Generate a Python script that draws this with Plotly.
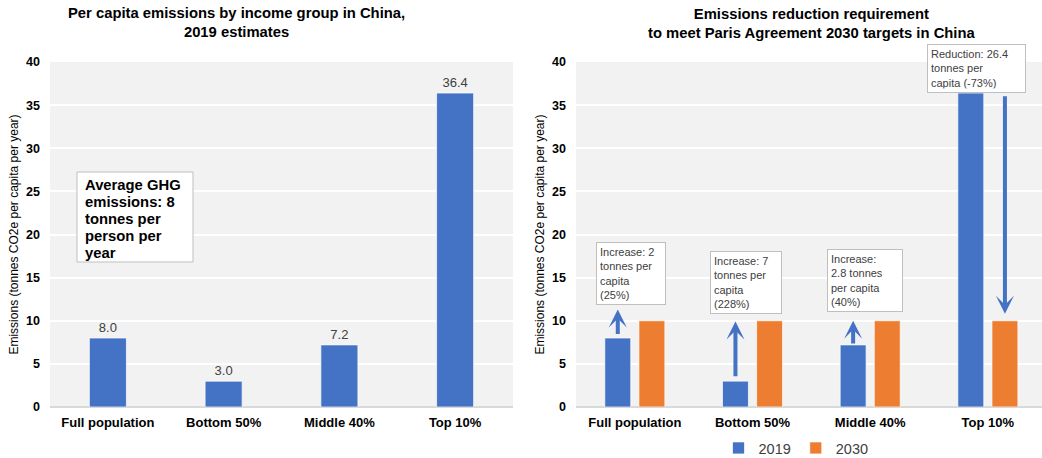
import plotly.graph_objects as go

# Income groups and per-capita emissions (tonnes CO2e per capita per year)
groups = ["Full population", "Bottom 50%", "Middle 40%", "Top 10%"]
emissions_2019 = [8.0, 3.0, 7.2, 36.4]
emissions_2030 = [10, 10, 10, 10]

# Change arrows on the right-hand chart: start and end values, and which bar they sit on
arrow_from = [8.3, 3.4, 7.2, 36.2]
arrow_to = [11.3, 9.9, 10.0, 10.8]
arrow_on_2030 = [False, False, False, True]

change_notes = [
    "Increase: 2<br>tonnes per<br>capita<br>(25%)",
    "Increase: 7<br>tonnes per<br>capita<br>(228%)",
    "Increase:<br>2.8 tonnes<br>per capita<br>(40%)",
    "Reduction: 26.4<br>tonnes per<br>capita (-73%)",
]
average_note_lines = ["Average GHG", "emissions: 8", "tonnes per", "person per", "year"]

left_title = "Per capita emissions by income group in China,<br>2019 estimates"
right_title = "Emissions reduction requirement<br>to meet Paris Agreement 2030 targets in China"
y_title = "Emissions (tonnes CO2e per capita per year)"
y_ticks = [0, 5, 10, 15, 20, 25, 30, 35, 40]

W, H = 1042, 458
BLUE = "#4472C4"
ORANGE = "#ED7D31"
BG = "#F2F2F2"
FONT = "Liberation Sans, Arial, sans-serif"


def px(x):
    return x / W


def py(y):
    return 1 - y / H


idx = list(range(len(groups)))
RIGHT_BARGAP = 0.42
slot = (1 - RIGHT_BARGAP) / 2
bar_edge = dict(color="rgba(255,255,255,0.7)", width=1)

fig = go.Figure()

fig.add_trace(go.Bar(
    x=idx, y=emissions_2019, xaxis="x", yaxis="y",
    marker=dict(color=BLUE, line=bar_edge),
    width=0.32, text=[f"{v:.1f}" for v in emissions_2019], textposition="outside",
    textfont=dict(size=13, color="#404040", family=FONT), cliponaxis=False,
    showlegend=False, name="2019",
))

fig.add_trace(go.Bar(
    x=idx, y=emissions_2019, xaxis="x2", yaxis="y2", name="2019",
    marker=dict(color=BLUE, line=bar_edge), offsetgroup="a",
))
fig.add_trace(go.Bar(
    x=idx, y=emissions_2030, xaxis="x2", yaxis="y2", name="2030",
    marker=dict(color=ORANGE, line=bar_edge), offsetgroup="b",
))

axis_common = dict(
    showgrid=False, zeroline=False, showline=False, ticks="",
    tickfont=dict(size=13, family=FONT, color="#000", weight="bold"),
    tickmode="array", tickvals=idx, ticktext=groups, ticklabelstandoff=6,
)
yaxis_common = dict(
    range=[0, 40], tickvals=y_ticks, showgrid=True, gridcolor="white", gridwidth=1.5,
    zeroline=True, zerolinecolor="#D9D9D9", zerolinewidth=1.5, showline=False,
    tickfont=dict(size=12.5, family=FONT, color="#000", weight="bold"),
    ticklabelstandoff=9,
    title=dict(text=y_title, font=dict(size=12, family=FONT, color="#000"), standoff=4),
)

fig.update_layout(
    width=W, height=H, margin=dict(l=0, r=0, t=0, b=0, autoexpand=False),
    paper_bgcolor="white", plot_bgcolor=BG,
    font=dict(family=FONT),
    barmode="group", bargap=RIGHT_BARGAP, bargroupgap=0.24,
    xaxis=dict(domain=[px(50), px(513)], range=[-0.5, 3.5], anchor="y", **axis_common),
    yaxis=dict(domain=[py(407), py(62)], anchor="x", **yaxis_common),
    xaxis2=dict(domain=[px(576), 1.0], range=[-0.5, 3.46], anchor="y2", **axis_common),
    yaxis2=dict(domain=[py(407), py(62)], anchor="x2", **yaxis_common),
    legend=dict(orientation="h", x=px(796), xanchor="center", y=py(448), yanchor="middle",
                font=dict(size=14.5, family=FONT, color="#404040"),
                bgcolor="rgba(0,0,0,0)"),
)

annotations = [
    dict(text=f"<b>{left_title}</b>", xref="paper", yref="paper", x=px(236), y=py(3),
         xanchor="center", yanchor="top", showarrow=False,
         font=dict(size=14.8, family=FONT, color="#000")),
    dict(text=f"<b>{right_title}</b>", xref="paper", yref="paper", x=px(812), y=py(4),
         xanchor="center", yanchor="top", showarrow=False,
         font=dict(size=14.8, family=FONT, color="#000")),
]

# Boxed note on the left chart: white frame plus tightly spaced bold lines
shapes = [dict(type="rect", xref="paper", yref="paper",
               x0=px(77), x1=px(193), y0=py(262), y1=py(172),
               fillcolor="white", line=dict(color="#BFBFBF", width=1), layer="above")]
for k, line in enumerate(average_note_lines):
    annotations.append(dict(
        text=f"<b>{line}</b>", xref="paper", yref="paper", x=px(83), y=py(185 + 17 * k),
        xanchor="left", yanchor="middle", showarrow=False, align="left",
        font=dict(size=14.8, family=FONT, color="#000"),
    ))

# Change arrows drawn over the 2019 bars (or the 2030 bar for the reduction)
for i in idx:
    xo = i + (slot / 2 if arrow_on_2030[i] else -slot / 2)
    annotations.append(dict(
        x=xo, y=arrow_to[i], ax=xo, ay=arrow_from[i],
        xref="x2", yref="y2", axref="x2", ayref="y2",
        text="", showarrow=True, arrowhead=3, arrowsize=0.75, arrowwidth=4,
        arrowcolor=BLUE, standoff=0, startstandoff=0,
    ))

# Note boxes: left edge, top edge and width in pixels
note_boxes = [(596, 242, 62), (710, 251, 64), (827, 249, 68), (927, 44, 91)]
for note, (bx, by, bw) in zip(change_notes, note_boxes):
    annotations.append(dict(
        text=note, xref="paper", yref="paper", x=px(bx), y=py(by),
        xanchor="left", yanchor="top", showarrow=False, align="left",
        width=bw, borderpad=3, bgcolor="white", bordercolor="#BFBFBF", borderwidth=1,
        font=dict(size=11, family=FONT, color="#404040"),
    ))

fig.update_layout(annotations=annotations, shapes=shapes)
fig.write_html("out.html")
